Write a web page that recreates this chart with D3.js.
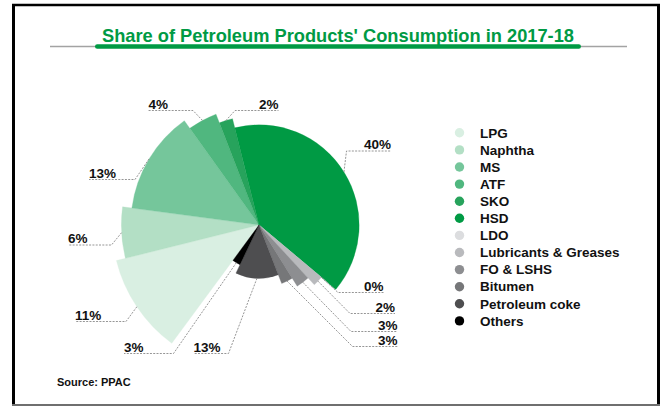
<!DOCTYPE html>
<html>
<head>
<meta charset="utf-8">
<script src="https://cdn.jsdelivr.net/npm/d3@7"></script>
<style>
  body { margin: 0; background: #fff; }
  svg { display: block; }
  text { font-family: "Liberation Sans", Arial, Helvetica, sans-serif; font-weight: bold; }
</style>
</head>
<body>
<svg id="chart" width="664" height="406"></svg>
<script>
// Product categories, in legend order (clockwise around the rose)
const categories = ["LPG", "Naphtha", "MS", "ATF", "SKO", "HSD", "LDO",
  "Lubricants & Greases", "FO & LSHS", "Bitumen", "Petroleum coke", "Others"];
// Share of consumption, per cent
const shares = [11, 6, 13, 4, 2, 40, 0, 2, 3, 3, 13, 3];
// Fill per product
const colors = ["#d9efe2", "#b3dfc5", "#75c69b", "#50b77f", "#27a35c", "#009a44",
  "#dcdddf", "#b9babd", "#8d8e91", "#767779", "#4e4e50", "#000000"];

const titleText = "Share of Petroleum Products' Consumption in 2017-18";
const sourceText = "Source: PPAC";

// Label placement: side of the text, y of the underline, elbow x, outer end x
const labelLayout = [
  { side: "left",  lineY: 321.5, elbowX: 126,   endX: 75 },
  { side: "left",  lineY: 245,   elbowX: 111.5, endX: 68 },
  { side: "left",  lineY: 179.5, elbowX: 135,   endX: 89 },
  { side: "left",  lineY: 110.5, elbowX: 193,   endX: 148.5 },
  { side: "right", lineY: 110.5, elbowX: 235,   endX: 278.5 },
  { side: "right", lineY: 151,   elbowX: 346.5, endX: 391 },
  { side: "right", lineY: 292.5, elbowX: 338,   endX: 383.5 },
  { side: "right", lineY: 313.5, elbowX: 350,   endX: 395 },
  { side: "right", lineY: 331.5, elbowX: 351,   endX: 397.5 },
  { side: "right", lineY: 346.5, elbowX: 352.5, endX: 397.5 },
  { side: "left",  lineY: 353.5, elbowX: 228.5, endX: 193.5 },
  { side: "left",  lineY: 353.5, elbowX: 173.5, endX: 124 }
];

const svg = d3.select("#chart");

// Frame
svg.append("line").attr("x1", 13.5).attr("y1", 4).attr("x2", 13.5).attr("y2", 405)
  .attr("stroke", "#000").attr("stroke-width", 3);
svg.append("line").attr("x1", 12).attr("y1", 5).attr("x2", 660).attr("y2", 5)
  .attr("stroke", "#000").attr("stroke-width", 2.5);
svg.append("line").attr("x1", 658.5).attr("y1", 4).attr("x2", 658.5).attr("y2", 405)
  .attr("stroke", "#000").attr("stroke-width", 3);
svg.append("line").attr("x1", 12).attr("y1", 405).attr("x2", 660).attr("y2", 405)
  .attr("stroke", "#6f6f6f").attr("stroke-width", 2);

// Title with rule underneath
svg.append("line").attr("x1", 50).attr("y1", 46.5).attr("x2", 627).attr("y2", 46.5)
  .attr("stroke", "#a3a3a3").attr("stroke-width", 1.6);
svg.append("rect").attr("x", 95).attr("y", 44.3).attr("width", 486).attr("height", 4.4)
  .attr("rx", 2.2).attr("fill", "#009a44");
svg.append("text").attr("x", 338).attr("y", 41.7).attr("text-anchor", "middle")
  .attr("font-size", 19).attr("fill", "#009a44")
  .attr("textLength", 472).attr("lengthAdjust", "spacingAndGlyphs")
  .text(titleText);

// Rose pie: angle from share, radius stepping down by category index
const cx = 259, cy = 225;
const radius = d3.scaleLinear().domain([0, categories.length - 1]).range([147, 44]);
const startAngle = 216.4 * Math.PI / 180;
const pie = d3.pie().sort(null).value(d => d.value)
  .startAngle(startAngle).endAngle(startAngle + 2 * Math.PI);
const data = categories.map((c, i) => ({ name: c, value: shares[i], color: colors[i], index: i }));
const arcs = pie(data);

const g = svg.append("g").attr("transform", `translate(${cx},${cy})`);
g.selectAll("path.slice").data(arcs).join("path")
  .attr("class", "slice")
  .attr("fill", d => d.data.color)
  .attr("stroke", d => d.data.color)
  .attr("stroke-width", 0.3)
  .attr("d", d => d3.arc().innerRadius(0).outerRadius(radius(d.data.index))(d));

// Leader lines and value labels
const lbl = svg.append("g");
arcs.forEach((d, i) => {
  const a = (d.startAngle + d.endAngle) / 2;
  let r = radius(i);
  if (d.value === 0) r = Math.min(radius(Math.max(i - 1, 0)), radius(Math.min(i + 1, arcs.length - 1)));
  const sx = cx + r * Math.sin(a), sy = cy - r * Math.cos(a);
  const L = labelLayout[i];
  lbl.append("path")
    .attr("d", `M${sx},${sy}L${L.elbowX},${L.lineY}L${L.endX},${L.lineY}`)
    .attr("fill", "none").attr("stroke", "#8a8a8a").attr("stroke-width", 0.9)
    .attr("stroke-dasharray", "2,1.3");
  lbl.append("text")
    .attr("x", L.endX).attr("y", L.lineY - 2)
    .attr("text-anchor", L.side === "left" ? "start" : "end")
    .attr("font-size", 13.5).attr("fill", "#111")
    .text(shares[i] + "%");
});

// Legend
const legend = svg.append("g");
categories.forEach((c, i) => {
  const y = 132.8 + 17.1 * i;
  legend.append("circle").attr("cx", 459.5).attr("cy", y).attr("r", 4.7).attr("fill", colors[i]);
  legend.append("text").attr("x", 480).attr("y", y + 4.7)
    .attr("font-size", 13.5).attr("fill", "#111").text(c);
});

// Source note
svg.append("text").attr("x", 57).attr("y", 386).attr("font-size", 11).attr("fill", "#111")
  .text(sourceText);
</script>
</body>
</html>
